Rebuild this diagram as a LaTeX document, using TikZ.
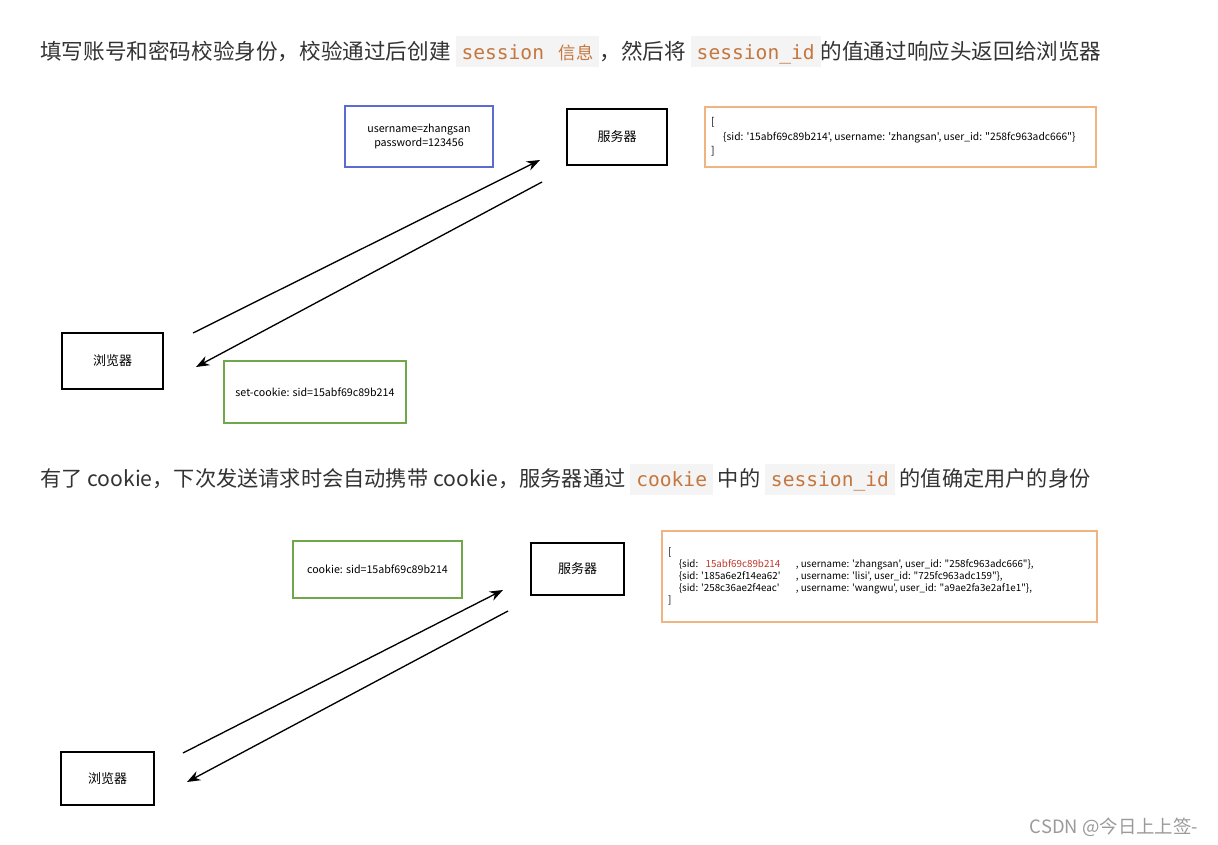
\documentclass[tikz,border=0pt]{standalone}
\usepackage{fontspec}
\setmainfont{Noto Sans CJK SC}
\newfontfamily\codefont{DejaVu Sans Mono}
\newfontfamily\cjkfont{Noto Sans CJK SC}
\newfontfamily\storefont[Ligatures=TeXOff]{Noto Sans CJK SC}
\usetikzlibrary{positioning,arrows.meta}
\definecolor{headtext}{HTML}{333333}
\definecolor{codetext}{HTML}{C4773F}
\definecolor{codebg}{HTML}{F4F4F4}
\definecolor{loginblue}{HTML}{5B6BD0}
\definecolor{cookiegreen}{HTML}{6FA84A}
\definecolor{storeorange}{HTML}{F0B482}
\definecolor{sidred}{HTML}{C0392B}
\definecolor{markgrey}{HTML}{9A9A9A}
\newcommand{\codechip}[1]{{\setlength{\fboxsep}{0pt}\colorbox{codebg}{\rule[-6pt]{0pt}{23.25pt}\hspace{4.5pt}\codefont\fontsize{14.7}{17}\selectfont\color{codetext}#1\hspace{4.5pt}}}}

\begin{document}
\begin{tikzpicture}[x=0.75pt, y=-0.75pt,
	every node/.style={inner sep=0pt, font=\fontsize{8}{10}\selectfont},
	endpoint/.style={draw, line width=1.5pt, font=\fontsize{9.75}{12}\selectfont},
	blueform/.style={draw=loginblue, line width=1.1pt, align=center},
	greenform/.style={draw=cookiegreen, line width=1.1pt},
	orangestore/.style={draw=storeorange, line width=1.1pt},
	storetext/.style={anchor=west, align=left},
	heading/.style={anchor=west, text=headtext},
	msg/.style={line width=1pt, -{Stealth[length=10pt, width=7.5pt]}}]
	\useasboundingbox[fill=white] (0,0) rectangle (1218,845);
	
	% first part: login
	\node [heading, font=\fontsize{16.2}{19}\selectfont] (title1) at (40,52) {填写账号和密码校验身份，校验通过后创建 \codechip{session\hspace{0.75em}{\cjkfont\fontsize{13}{15}\selectfont 信息}}，然后将 \codechip{session\_id}的值通过响应头返回给浏览器};
	
	\node [blueform, minimum width=111pt, minimum height=45.75pt] (login) at (419,136.5) {username=zhangsan\\password=123456};
	\node [endpoint, minimum width=75pt, minimum height=42pt] (server1) at (617,137) {服务器};
	\node [orangestore, minimum width=293.25pt, minimum height=45pt] (store1) at (900.5,137) {};
	\node [storetext, font=\storefont\fontsize{7.7}{10.9}\selectfont] (store1text) at ([xshift=5pt]store1.west) {[\\\hspace{9pt}\{sid: '15abf69c89b214', username: 'zhangsan', user\_id: "258fc963adc666"\}\\]};
	\node [endpoint, minimum width=75.75pt, minimum height=42pt] (browser1) at (112.5,361) {浏览器};
	\node [greenform, minimum width=136.5pt, minimum height=46.5pt] (setcookie) at (315,392) {set-cookie: sid=15abf69c89b214};
	
	\coordinate (req1a) at (193,333);
	\coordinate (req1b) at (540,160);
	\coordinate (res1a) at (542,182);
	\coordinate (res1b) at (196,367);
	\draw [msg] (req1a) -- (req1b);
	\draw [msg] (res1a) -- (res1b);
	
	% second part: next request
	\node [heading, font=\fontsize{15.9}{19}\selectfont] (title2) at (40,479) {有了 cookie，下次发送请求时会自动携带 cookie，服务器通过 \codechip{cookie} 中的 \codechip{session\_id} 的值确定用户的身份};
	
	\node [greenform, minimum width=126.75pt, minimum height=42.75pt] (cookie) at (377.5,569.5) {cookie: sid=15abf69c89b214};
	\node [endpoint, minimum width=69.75pt, minimum height=39pt] (server2) at (577.5,569) {服务器};
	\node [orangestore, minimum width=326.25pt, minimum height=68.25pt] (store2) at (879.5,576.5) {};
	\node [storetext, font=\storefont\fontsize{7.35}{9}\selectfont] (store2text) at ([xshift=5pt]store2.west) {[\\
		\hspace{8pt}\makebox[87.75pt][l]{\{sid: \ \ \textcolor{sidred}{15abf69c89b214}}, username: 'zhangsan', user\_id: "258fc963adc666"\},\\
		\hspace{8pt}\makebox[87.75pt][l]{\{sid: '185a6e2f14ea62'}, username: 'lisi', user\_id: "725fc963adc159"\},\\
		\hspace{8pt}\makebox[87.75pt][l]{\{sid: '258c36ae2f4eac'}, username: 'wangwu', user\_id: "a9ae2fa3e2af1e1"\},\\
		]};
	\node [endpoint, minimum width=69.75pt, minimum height=39.75pt] (browser2) at (107.5,778.5) {浏览器};
	
	\coordinate (req2a) at (183,753);
	\coordinate (req2b) at (503,590);
	\coordinate (res2a) at (508,611);
	\coordinate (res2b) at (187,782);
	\draw [msg] (req2a) -- (req2b);
	\draw [msg] (res2a) -- (res2b);
	
	\node [text=markgrey, font=\fontsize{13.8}{16}\selectfont] (mark) at (1114,827) {CSDN @今日上上签-};
\end{tikzpicture}
\end{document}
